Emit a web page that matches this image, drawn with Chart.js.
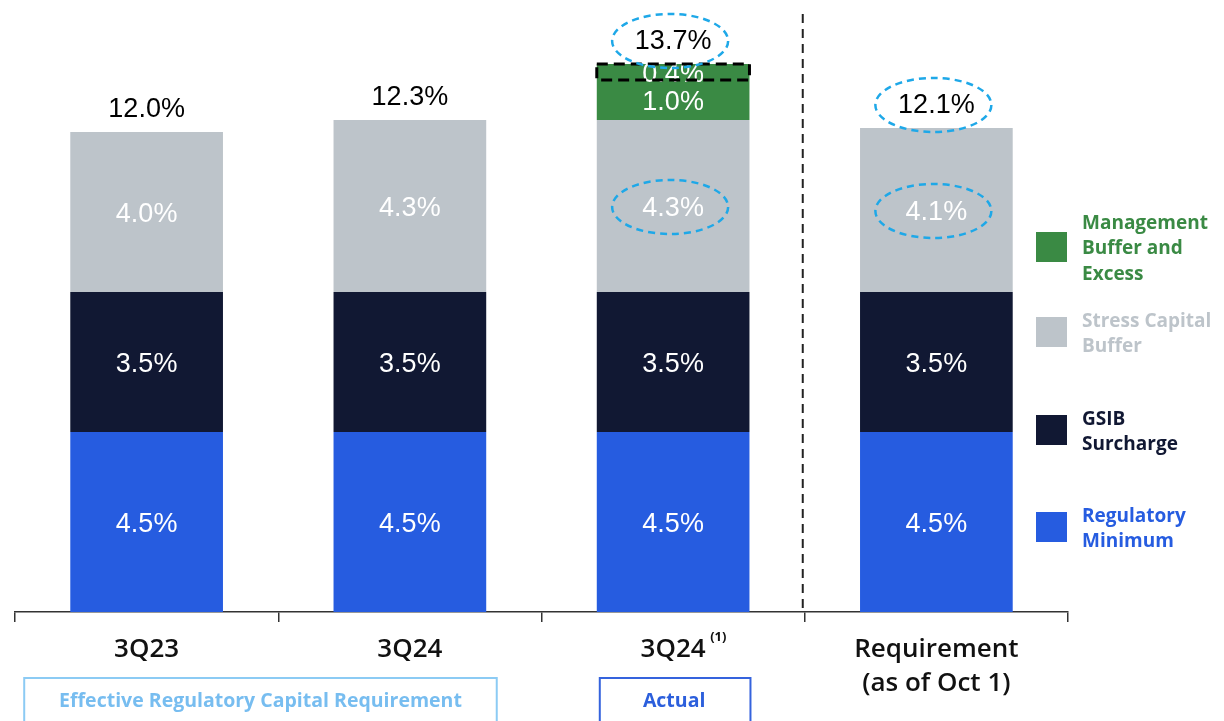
<!DOCTYPE html>
<html>
<head>
<meta charset="utf-8">
<script src="https://cdn.jsdelivr.net/npm/chart.js@4/dist/chart.umd.min.js"></script>
<style>
  body { margin: 0; background: #fff; }
  #wrap { width: 1224px; height: 721px; position: relative; }
</style>
</head>
<body>
<div id="wrap"><canvas id="capitalChart"></canvas></div>
<script>
const categories = ['3Q23', '3Q24', '3Q24', ['Requirement', '(as of Oct 1)']];
const regulatoryMinimum = [4.5, 4.5, 4.5, 4.5];
const gsibSurcharge = [3.5, 3.5, 3.5, 3.5];
const stressCapitalBuffer = [4.0, 4.3, 4.3, 4.1];
const managementBuffer = [null, null, 1.0, null];
const excessBuffer = [null, null, 0.4, null];
const totals = [12.0, 12.3, 13.7, 12.1];

const legendItems = [
    { lines: ['Management', 'Buffer and', 'Excess'], color: '#3a8a44' },
    { lines: ['Stress Capital', 'Buffer'], color: '#bdc4ca' },
    { lines: ['GSIB', 'Surcharge'], color: '#111833' },
    { lines: ['Regulatory', 'Minimum'], color: '#265ce0' }
];

const numFont = '27px "Liberation Sans", Arial, sans-serif';
const labelFont = '"Open Sans", sans-serif';

// segment values, totals, highlights, divider
const overlay = {
    id: 'overlay',
    afterDatasetsDraw(chart) {
        const ctx = chart.ctx;
        const yScale = chart.scales.y;
        const xScale = chart.scales.x;
        ctx.save();
        ctx.textAlign = 'center';
        ctx.textBaseline = 'middle';
        ctx.font = numFont;
        ctx.fillStyle = '#ffffff';
        chart.data.datasets.forEach((ds, di) => {
            chart.getDatasetMeta(di).data.forEach((bar, i) => {
                const v = ds.data[i];
                if (v == null) return;
                const p = bar.getProps(['x', 'y', 'base'], true);
                ctx.fillText(v.toFixed(1) + '%', p.x, (p.y + p.base) / 2 + 3);
            });
        });
        ctx.fillStyle = '#000000';
        totals.forEach((t, i) => {
            const x = xScale.getPixelForValue(i);
            ctx.fillText(t.toFixed(1) + '%', x, yScale.getPixelForValue(t) - 22);
        });

        // dashed box around excess segment
        const ex = chart.getDatasetMeta(4).data[2].getProps(['x', 'y', 'base', 'width'], true);
        ctx.setLineDash([11, 6]);
        ctx.lineWidth = 3;
        ctx.strokeStyle = '#000000';
        ctx.strokeRect(ex.x - ex.width / 2, ex.y, ex.width, ex.base - ex.y);

        // cyan ellipses
        ctx.setLineDash([7, 5]);
        ctx.lineWidth = 2.5;
        ctx.strokeStyle = '#1ea8e8';
        const ellipse = (cx, cy) => {
            ctx.beginPath();
            ctx.ellipse(cx, cy, 58, 27, 0, 0, Math.PI * 2);
            ctx.stroke();
        };
        [2, 3].forEach(i => {
            const x = xScale.getPixelForValue(i);
            ellipse(x - 3, yScale.getPixelForValue(totals[i]) - 23);
            const s = chart.getDatasetMeta(2).data[i].getProps(['y', 'base'], true);
            ellipse(x - 3, (s.y + s.base) / 2 + 1);
        });

        // vertical divider
        const dx = (xScale.getPixelForValue(2) + xScale.getPixelForValue(3)) / 2 - 2;
        ctx.setLineDash([9, 6]);
        ctx.lineWidth = 2;
        ctx.strokeStyle = '#222222';
        ctx.beginPath();
        ctx.moveTo(dx, chart.chartArea.top + 2);
        ctx.lineTo(dx, chart.chartArea.bottom - 4);
        ctx.stroke();
        ctx.restore();
    },
    afterDraw(chart) {
        const ctx = chart.ctx;
        const xScale = chart.scales.x;
        ctx.save();

        // superscript
        ctx.font = 'bold 13px ' + labelFont;
        ctx.fillStyle = '#111';
        ctx.textAlign = 'left';
        ctx.textBaseline = 'middle';
        ctx.fillText('(1)', xScale.getPixelForValue(2) + 37, 637);

        // group boxes
        const step = xScale.getPixelForValue(1) - xScale.getPixelForValue(0);
        const b0 = xScale.getPixelForValue(0) - step * 0.465;
        const b1 = xScale.getPixelForValue(1) + step * 0.33;
        ctx.lineWidth = 2;
        ctx.strokeStyle = '#8ccbf4';
        ctx.strokeRect(b0, 678, b1 - b0, 60);
        ctx.font = 'bold 19.5px ' + labelFont;
        ctx.fillStyle = '#77bdf0';
        ctx.textAlign = 'center';
        ctx.fillText('Effective Regulatory Capital Requirement', (b0 + b1) / 2, 701);

        const a = chart.getDatasetMeta(0).data[2];
        ctx.strokeStyle = '#3563dd';
        ctx.strokeRect(a.x - a.width / 2 + 3, 678, a.width - 2, 60);
        ctx.fillStyle = '#2c5fdc';
        ctx.fillText('Actual', a.x + 1, 701);

        // legend
        const centers = [247, 332, 430, 527];
        ctx.font = 'bold 19px ' + labelFont;
        ctx.textAlign = 'left';
        legendItems.forEach((item, k) => {
            const cy = centers[k];
            ctx.fillStyle = item.color;
            ctx.fillRect(1036, cy - 15, 31, 30);
            const n = item.lines.length;
            item.lines.forEach((line, j) => {
                ctx.fillText(line, 1082, cy + 2 + (j - (n - 1) / 2) * 25.5);
            });
        });
        ctx.restore();
    }
};

new Chart(
    document.getElementById('capitalChart'),
    {
        type: 'bar',
        data: {
            labels: categories,
            datasets: [
                { label: 'Regulatory Minimum', data: regulatoryMinimum, backgroundColor: '#265ce0' },
                { label: 'GSIB Surcharge', data: gsibSurcharge, backgroundColor: '#111833' },
                { label: 'Stress Capital Buffer', data: stressCapitalBuffer, backgroundColor: '#bdc4ca' },
                { label: 'Management Buffer', data: managementBuffer, backgroundColor: '#3a8a44' },
                { label: 'Excess', data: excessBuffer, backgroundColor: '#3a8a44' }
            ]
        },
        options: {
            responsive: true,
            maintainAspectRatio: false,
            animation: false,
            layout: { padding: { left: 15, right: 156, top: 12, bottom: 0 } },
            plugins: {
                legend: { display: false },
                tooltip: { enabled: false }
            },
            datasets: {
                bar: { barPercentage: 0.58, categoryPercentage: 1.0 }
            },
            scales: {
                x: {
                    stacked: true,
                    afterFit: axis => { axis.height = 109; },
                    grid: {
                        offset: true,
                        drawOnChartArea: false,
                        drawTicks: true,
                        tickLength: 10,
                        color: '#333333',
                        lineWidth: 1.5
                    },
                    border: { display: true, color: '#333333', width: 1.5 },
                    ticks: {
                        color: '#111111',
                        padding: 11,
                        maxRotation: 0,
                        autoSkip: false,
                        font: { family: labelFont, size: 26, weight: '600', lineHeight: 1.3 }
                    }
                },
                y: {
                    stacked: true,
                    display: false,
                    min: 0,
                    max: 15
                }
            }
        },
        plugins: [overlay]
    }
);
</script>
</body>
</html>
